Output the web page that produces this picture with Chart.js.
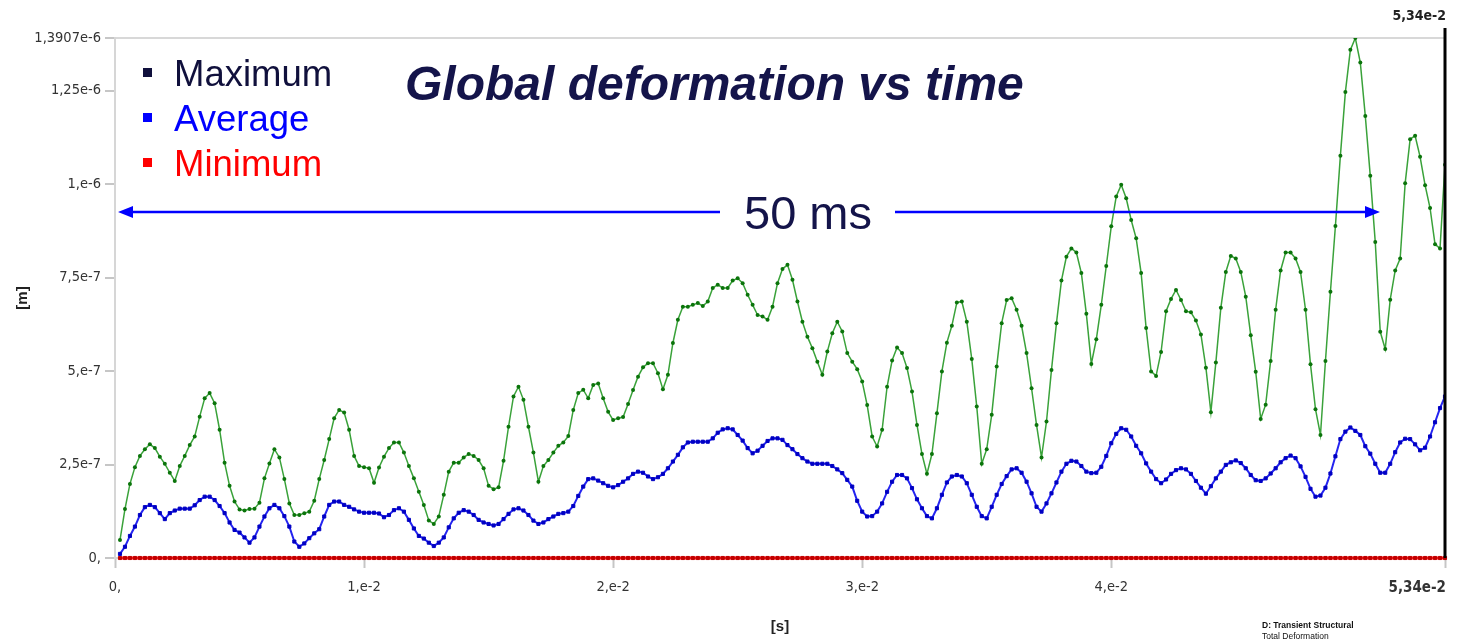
<!doctype html>
<html lang="en">
<head>
<meta charset="UTF-8">
<title>Global deformation vs time</title>
<script src="https://cdn.jsdelivr.net/npm/chart.js"></script>
<style>
    html, body { margin: 0; padding: 0; background: #fff; }
    #wrap { width: 1460px; height: 641px; }
</style>
</head>
<body>
<div id="wrap"><canvas id="chart" width="1460" height="641"></canvas></div>
<script>
// sample step of the transient solution, in ms (first sample at 0.2 ms, last at 53.4 ms)
const timeStepMs = 0.2;

// total deformation, in units of 1e-7 m
const maxValues = [
    0.48, 1.31, 1.98, 2.43, 2.73, 2.91, 3.04, 2.94, 2.71, 2.52,
    2.28, 2.06, 2.46, 2.73, 3.02, 3.25, 3.78, 4.27, 4.41, 4.14,
    3.43, 2.55, 1.93, 1.51, 1.30, 1.27, 1.31, 1.32, 1.48, 2.13,
    2.53, 2.91, 2.69, 2.11, 1.46, 1.15, 1.15, 1.20, 1.24, 1.53,
    2.11, 2.62, 3.18, 3.74, 3.96, 3.89, 3.43, 2.73, 2.46, 2.43,
    2.40, 2.01, 2.42, 2.71, 2.94, 3.09, 3.09, 2.82, 2.46, 2.13,
    1.77, 1.42, 1.00, 0.91, 1.11, 1.69, 2.31, 2.55, 2.55, 2.69,
    2.78, 2.73, 2.62, 2.40, 1.93, 1.84, 1.89, 2.60, 3.51, 4.32,
    4.58, 4.23, 3.51, 2.82, 2.04, 2.46, 2.62, 2.82, 3.00, 3.09,
    3.26, 3.96, 4.41, 4.50, 4.27, 4.63, 4.67, 4.27, 3.91, 3.69,
    3.74, 3.77, 4.12, 4.49, 4.85, 5.10, 5.21, 5.21, 4.94, 4.51,
    4.90, 5.75, 6.37, 6.72, 6.72, 6.77, 6.82, 6.74, 6.86, 7.22,
    7.31, 7.22, 7.22, 7.42, 7.48, 7.35, 7.04, 6.77, 6.50, 6.46,
    6.37, 6.72, 7.35, 7.73, 7.84, 7.44, 6.86, 6.32, 5.92, 5.61,
    5.25, 4.90, 5.52, 6.01, 6.32, 6.06, 5.48, 5.25, 5.05, 4.72,
    4.09, 3.25, 2.98, 3.43, 4.58, 5.28, 5.63, 5.48, 5.08, 4.45,
    3.56, 2.78, 2.25, 2.78, 3.87, 4.99, 5.76, 6.21, 6.83, 6.86,
    6.32, 5.32, 4.05, 2.52, 2.91, 3.83, 5.12, 6.28, 6.90, 6.95,
    6.64, 6.21, 5.48, 4.54, 3.56, 2.69, 3.65, 5.03, 6.28, 7.42,
    8.06, 8.28, 8.17, 7.62, 6.53, 5.19, 5.85, 6.77, 7.81, 8.87,
    9.67, 9.98, 9.62, 9.04, 8.55, 7.62, 6.15, 4.99, 4.87, 5.51,
    6.60, 6.93, 7.17, 6.90, 6.60, 6.57, 6.35, 5.98, 5.09, 3.90,
    5.23, 6.69, 7.65, 8.08, 8.01, 7.65, 6.99, 5.96, 4.98, 3.72,
    4.10, 5.27, 6.64, 7.69, 8.17, 8.17, 8.01, 7.65, 6.64, 5.18,
    3.98, 3.29, 5.27, 7.12, 8.88, 10.76, 12.46, 13.59, 13.907, 13.25,
    11.82, 10.22, 8.45, 6.05, 5.59, 6.91, 7.69, 8.01, 10.02, 11.20,
    11.29, 10.73, 9.97, 9.36, 8.39, 8.28, 10.52
];
const avgValues = [
    0.11, 0.30, 0.59, 0.84, 1.15, 1.36, 1.42, 1.36, 1.20, 1.04,
    1.20, 1.27, 1.32, 1.32, 1.32, 1.41, 1.55, 1.64, 1.64, 1.55,
    1.39, 1.20, 0.95, 0.75, 0.68, 0.55, 0.41, 0.55, 0.84, 1.11,
    1.33, 1.42, 1.33, 1.12, 0.84, 0.44, 0.30, 0.39, 0.53, 0.66,
    0.77, 1.11, 1.42, 1.51, 1.51, 1.42, 1.37, 1.30, 1.24, 1.21,
    1.21, 1.21, 1.19, 1.09, 1.15, 1.28, 1.33, 1.24, 1.02, 0.79,
    0.59, 0.52, 0.41, 0.32, 0.41, 0.55, 0.82, 1.06, 1.21, 1.28,
    1.24, 1.15, 1.02, 0.95, 0.91, 0.87, 0.91, 1.04, 1.18, 1.30,
    1.33, 1.27, 1.15, 1.00, 0.91, 0.95, 1.04, 1.11, 1.18, 1.20,
    1.24, 1.39, 1.66, 1.91, 2.11, 2.13, 2.07, 2.00, 1.93, 1.89,
    1.95, 2.04, 2.13, 2.25, 2.31, 2.28, 2.18, 2.11, 2.16, 2.25,
    2.40, 2.58, 2.76, 2.96, 3.09, 3.11, 3.11, 3.11, 3.11, 3.20,
    3.35, 3.44, 3.47, 3.44, 3.29, 3.14, 2.94, 2.80, 2.87, 3.00,
    3.13, 3.20, 3.20, 3.16, 3.02, 2.91, 2.78, 2.67, 2.58, 2.52,
    2.52, 2.52, 2.52, 2.46, 2.37, 2.27, 2.09, 1.91, 1.53, 1.24,
    1.11, 1.12, 1.24, 1.46, 1.77, 2.04, 2.22, 2.22, 2.13, 1.87,
    1.57, 1.33, 1.12, 1.06, 1.33, 1.69, 2.02, 2.18, 2.22, 2.18,
    2.00, 1.69, 1.37, 1.12, 1.06, 1.37, 1.69, 1.98, 2.19, 2.37,
    2.40, 2.28, 2.04, 1.73, 1.37, 1.24, 1.46, 1.73, 2.02, 2.31,
    2.52, 2.60, 2.58, 2.46, 2.31, 2.27, 2.28, 2.44, 2.73, 3.07,
    3.32, 3.47, 3.43, 3.25, 3.00, 2.80, 2.53, 2.31, 2.11, 2.00,
    2.10, 2.25, 2.35, 2.40, 2.37, 2.25, 2.06, 1.88, 1.72, 1.92,
    2.13, 2.31, 2.49, 2.56, 2.61, 2.54, 2.40, 2.22, 2.08, 2.06,
    2.13, 2.26, 2.40, 2.56, 2.67, 2.74, 2.67, 2.45, 2.17, 1.85,
    1.64, 1.67, 1.88, 2.26, 2.72, 3.18, 3.38, 3.49, 3.40, 3.29,
    2.99, 2.79, 2.52, 2.28, 2.28, 2.52, 2.83, 3.09, 3.19, 3.18,
    3.04, 2.88, 2.95, 3.25, 3.63, 4.01, 4.32
];
const minValues = [
    0, 0, 0, 0, 0, 0, 0, 0, 0, 0, 0, 0, 0, 0, 0, 0, 0, 0, 0, 0,
    0, 0, 0, 0, 0, 0, 0, 0, 0, 0, 0, 0, 0, 0, 0, 0, 0, 0, 0, 0,
    0, 0, 0, 0, 0, 0, 0, 0, 0, 0, 0, 0, 0, 0, 0, 0, 0, 0, 0, 0,
    0, 0, 0, 0, 0, 0, 0, 0, 0, 0, 0, 0, 0, 0, 0, 0, 0, 0, 0, 0,
    0, 0, 0, 0, 0, 0, 0, 0, 0, 0, 0, 0, 0, 0, 0, 0, 0, 0, 0, 0,
    0, 0, 0, 0, 0, 0, 0, 0, 0, 0, 0, 0, 0, 0, 0, 0, 0, 0, 0, 0,
    0, 0, 0, 0, 0, 0, 0, 0, 0, 0, 0, 0, 0, 0, 0, 0, 0, 0, 0, 0,
    0, 0, 0, 0, 0, 0, 0, 0, 0, 0, 0, 0, 0, 0, 0, 0, 0, 0, 0, 0,
    0, 0, 0, 0, 0, 0, 0, 0, 0, 0, 0, 0, 0, 0, 0, 0, 0, 0, 0, 0,
    0, 0, 0, 0, 0, 0, 0, 0, 0, 0, 0, 0, 0, 0, 0, 0, 0, 0, 0, 0,
    0, 0, 0, 0, 0, 0, 0, 0, 0, 0, 0, 0, 0, 0, 0, 0, 0, 0, 0, 0,
    0, 0, 0, 0, 0, 0, 0, 0, 0, 0, 0, 0, 0, 0, 0, 0, 0, 0, 0, 0,
    0, 0, 0, 0, 0, 0, 0, 0, 0, 0, 0, 0, 0, 0, 0, 0, 0, 0, 0, 0,
    0, 0, 0, 0, 0, 0, 0
];

const xTicks = [0, 10, 20, 30, 40, 53.4];
const xTickLabels = ['0,', '1,e-2', '2,e-2', '3,e-2', '4,e-2', '5,34e-2'];
const yTicks = [0, 2.5, 5, 7.5, 10, 12.5, 13.907];
const yTickLabels = ['0,', '2,5e-7', '5,e-7', '7,5e-7', '1,e-6', '1,25e-6', '1,3907e-6'];
const legendNames = ['Maximum', 'Average', 'Minimum'];
const legendColors = ['#10103c', '#0000ff', '#ff0000'];

const endTime = xTicks[xTicks.length - 1];
const yMax = yTicks[yTicks.length - 1];
const times = maxValues.map((v, i) => (i + 1) * timeStepMs);
const pts = arr => arr.map((v, i) => ({x: times[i], y: v}));

const narrow = "'Liberation Sans Narrow', 'DejaVu Sans Condensed', 'Liberation Sans', sans-serif";
const tickFont = {family: narrow, size: 14.5};

const overlay = {
    id: 'overlay',
    afterDatasetsDraw(chart) {
        const {ctx, chartArea: a, scales: {x}} = chart;
        ctx.save();

        // end time marker
        const xe = x.getPixelForValue(endTime);
        ctx.strokeStyle = '#000';
        ctx.lineWidth = 3;
        ctx.beginPath();
        ctx.moveTo(xe, 28);
        ctx.lineTo(xe, a.bottom);
        ctx.stroke();

        ctx.textAlign = 'right';
        ctx.textBaseline = 'alphabetic';
        ctx.fillStyle = '#222';
        ctx.font = "bold 14px " + narrow;
        ctx.fillText(xTickLabels[xTickLabels.length - 1], xe + 1, 20);
        ctx.font = "bold 15px " + narrow;
        ctx.fillStyle = '#333';
        ctx.fillText(xTickLabels[xTickLabels.length - 1], xe + 1, 592);

        // legend
        ctx.textAlign = 'left';
        ctx.font = "36.5px 'Liberation Sans', Arial, sans-serif";
        legendNames.forEach((name, i) => {
            const base = 86 + i * 45;
            ctx.fillStyle = legendColors[i];
            ctx.fillRect(143, base - 18, 9, 9);
            ctx.fillText(name, 174, base);
        });

        // title
        ctx.fillStyle = '#14144a';
        ctx.font = "italic bold 48px 'Liberation Sans', Arial, sans-serif";
        ctx.fillText('Global deformation vs time', 405, 100);

        // 50 ms span arrow
        const ay = 212;
        const x0 = 118, x1 = 1380;
        ctx.strokeStyle = '#0000ff';
        ctx.fillStyle = '#0000ff';
        ctx.lineWidth = 2.5;
        ctx.beginPath();
        ctx.moveTo(x0 + 10, ay); ctx.lineTo(720, ay);
        ctx.moveTo(895, ay); ctx.lineTo(x1 - 10, ay);
        ctx.stroke();
        ctx.beginPath();
        ctx.moveTo(x0, ay); ctx.lineTo(x0 + 15, ay - 6); ctx.lineTo(x0 + 15, ay + 6); ctx.closePath();
        ctx.moveTo(x1, ay); ctx.lineTo(x1 - 15, ay - 6); ctx.lineTo(x1 - 15, ay + 6); ctx.closePath();
        ctx.fill();
        ctx.fillStyle = '#14144a';
        ctx.font = "47px 'Liberation Sans', Arial, sans-serif";
        ctx.fillText('50 ms', 744, 229);

        // source caption
        ctx.fillStyle = '#111';
        ctx.font = "bold 8.5px 'Liberation Sans', Arial, sans-serif";
        ctx.fillText('D: Transient Structural', 1262, 628);
        ctx.font = "8.5px 'Liberation Sans', Arial, sans-serif";
        ctx.fillText('Total Deformation', 1262, 639);
        ctx.restore();
    }
};

new Chart(document.getElementById('chart'), {
    type: 'line',
    data: {
        datasets: [
            {
                label: legendNames[0], data: pts(maxValues),
                borderColor: '#3aa23a', borderWidth: 1.5,
                pointRadius: 2, pointStyle: 'circle',
                pointBackgroundColor: '#0b740b', pointBorderColor: '#0b740b', pointBorderWidth: 0
            },
            {
                label: legendNames[1], data: pts(avgValues),
                borderColor: '#2424f0', borderWidth: 2,
                pointRadius: 2.2, pointStyle: 'rect',
                pointBackgroundColor: '#0000c4', pointBorderColor: '#0000c4', pointBorderWidth: 1
            },
            {
                label: legendNames[2], data: pts(minValues), clip: 6,
                borderColor: '#ff1818', borderWidth: 3,
                pointRadius: 2.2, pointStyle: 'rect',
                pointBackgroundColor: '#c00000', pointBorderColor: '#c00000', pointBorderWidth: 1
            }
        ]
    },
    options: {
        responsive: false,
        animation: false,
        devicePixelRatio: 1,
        layout: {padding: {top: 38, right: 15, left: 0, bottom: 0}},
        elements: {line: {tension: 0}},
        plugins: {legend: {display: false}, title: {display: false}, tooltip: {enabled: false}},
        scales: {
            x: {
                type: 'linear', min: 0, max: endTime,
                afterBuildTicks: s => { s.ticks = xTicks.map(v => ({value: v})); },
                afterFit: s => { s.height = 83; },
                ticks: {
                    // last label is drawn by the overlay, right-aligned to the end marker
                    callback: (v, i) => i === xTicks.length - 1 ? '' : xTickLabels[i],
                    autoSkip: false, maxRotation: 0, padding: 11,
                    color: '#333', font: tickFont
                },
                grid: {drawOnChartArea: false, tickLength: 10, tickColor: '#c6c6c6', tickWidth: 2},
                border: {color: '#d6d6d6', width: 2},
                title: {
                    display: true, text: '[s]', color: '#222',
                    font: {family: "'Liberation Sans', Arial, sans-serif", size: 15, weight: 'bold'},
                    padding: {top: 0, bottom: 5}
                }
            },
            y: {
                min: 0, max: yMax,
                afterBuildTicks: s => { s.ticks = yTicks.map(v => ({value: v})); },
                afterFit: s => { s.width = 115; },
                ticks: {
                    callback: (v, i) => yTickLabels[i],
                    autoSkip: false, padding: 4,
                    color: '#333', font: tickFont
                },
                grid: {
                    color: c => c.tick && c.tick.value === yMax ? '#d8d8d8' : 'rgba(0,0,0,0)',
                    lineWidth: 2, tickLength: 10, tickColor: '#c6c6c6', tickWidth: 2
                },
                border: {color: '#d6d6d6', width: 2},
                title: {
                    display: true, text: '[m]', color: '#222',
                    font: {family: "'Liberation Sans', Arial, sans-serif", size: 15, weight: 'bold'},
                    padding: {top: 14, bottom: 0}
                }
            }
        }
    },
    plugins: [overlay]
});
</script>
</body>
</html>
